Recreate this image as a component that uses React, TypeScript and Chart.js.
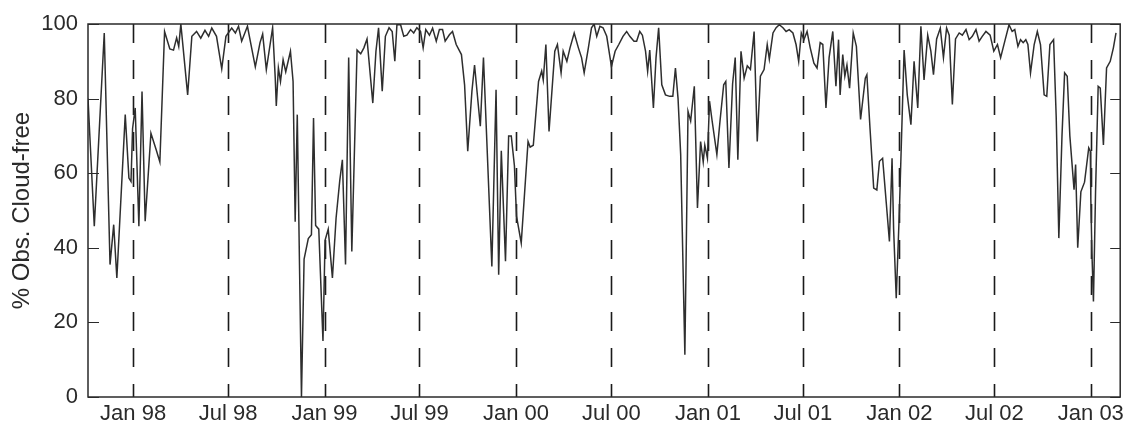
import React, { useEffect, useRef } from "react";
import { Chart, registerables } from "chart.js";

Chart.register(...registerables);

// Days since 1 Jan 1998 for each observation
const days = [
  -86, -74, -55, -44, -37, -31, -15, -8, -4, -1, 4, 11, 17, 23, 34, 44, 51, 60, 70, 77,
  83, 87, 91, 104, 112, 121, 129, 137, 144, 150, 159, 169, 177, 188, 195, 201, 207, 218, 224, 233,
  242, 247, 254, 266, 271, 273, 277, 281, 286, 291, 300, 305, 309, 313, 321, 326, 334, 340, 344, 348,
  354, 362, 366, 372, 380, 387, 394, 399, 405, 411, 417, 427, 434, 440, 446, 457, 463, 468, 475, 481,
  488, 494, 499, 503, 510, 516, 522, 529, 535, 541, 548, 553, 558, 565, 571, 578, 584, 590, 595, 603,
  609, 616, 626, 632, 638, 646, 651, 659, 662, 668, 684, 692, 697, 702, 710, 716, 721, 727, 731, 740,
  753, 757, 763, 773, 779, 782, 787, 793, 804, 809, 816, 820, 827, 833, 841, 849, 855, 860, 868, 874,
  879, 884, 890, 896, 903, 912, 919, 926, 934, 941, 947, 955, 960, 966, 971, 977, 981, 985, 992, 997,
  1002, 1008, 1015, 1023, 1029, 1034, 1039, 1044, 1052, 1058, 1063, 1070, 1076, 1082, 1087, 1090, 1095, 1099, 1104, 1113,
  1119, 1126, 1130, 1136, 1143, 1148, 1153, 1159, 1165, 1171, 1177, 1184, 1190, 1196, 1203, 1209, 1213, 1220, 1226, 1232,
  1239, 1245, 1251, 1258, 1264, 1269, 1274, 1279, 1285, 1291, 1298, 1304, 1310, 1315, 1321, 1327, 1334, 1340, 1345, 1348,
  1353, 1357, 1361, 1366, 1373, 1379, 1387, 1396, 1399, 1405, 1412, 1418, 1423, 1429, 1436, 1442, 1447, 1450, 1455, 1461,
  1470, 1476, 1483, 1489, 1496, 1502, 1508, 1515, 1521, 1526, 1532, 1539, 1545, 1551, 1556, 1562, 1568, 1575, 1581, 1588,
  1594, 1600, 1607, 1613, 1619, 1626, 1634, 1641, 1648, 1654, 1662, 1670, 1676, 1681, 1687, 1692, 1697, 1702, 1706, 1711,
  1718, 1724, 1730, 1737, 1742, 1748, 1755, 1760, 1765, 1771, 1776, 1781, 1786, 1794, 1797, 1801, 1807, 1814, 1822, 1825,
  1826, 1828, 1831, 1835, 1840, 1844, 1850, 1856, 1863, 1869, 1874,
];

// % of observations cloud-free
const pct = [
  80, 45.8, 97.6, 35.5, 46.2, 31.9, 75.7, 58.7, 57.8, 72, 77.5, 45.8, 81.9, 47.1, 70.7, 66.3, 63, 98, 93.3, 93,
  96.3, 94, 100, 81, 96.7, 98, 96.2, 98.3, 96.7, 98.9, 96.7, 88, 96.7, 98.9, 97.6, 99.4, 95.4, 99.4, 95, 88.5,
  95, 97.3, 87.8, 99, 85.5, 78, 88.2, 84.6, 90.4, 87.2, 92.7, 84.6, 47, 75.7, 0, 37, 42.5, 43.5, 74.8, 46,
  45, 15, 42, 45, 31.9, 48, 58, 63.6, 35.5, 91, 39, 93, 92, 93.6, 96, 78.8, 92.7, 99, 82, 96.7,
  99, 98, 90, 99.8, 99.8, 96.7, 97, 98.5, 97.6, 99, 98, 93.6, 98.5, 97, 98.9, 95.4, 98.5, 98.5, 95.4, 97.1,
  98, 94.5, 91.8, 83.7, 65.9, 82, 89, 77, 72.6, 91, 35, 82.4, 32.8, 66, 36.4, 70, 70, 62, 48.5, 41.3,
  68.5, 67, 67.5, 84.6, 87.4, 85, 94.5, 71.2, 92.7, 94.5, 86.9, 92.7, 90, 93.6, 97.6, 93.6, 91, 86.9, 93.6, 99,
  100, 96.7, 99.4, 99, 96.7, 88.6, 92.7, 94.5, 96.7, 98, 96.7, 95.4, 95.4, 98, 97, 92.7, 87.3, 93, 77.5, 91,
  99, 83.7, 81, 80.6, 80.6, 88.2, 80, 65, 11.3, 76.6, 74, 83.3, 50.7, 68.5, 63, 67.5, 64, 79.3, 74, 65,
  74, 83.7, 84.6, 61.4, 84, 91, 63.6, 92.7, 85.5, 88.8, 87.8, 98, 68.5, 86, 87.8, 94.5, 90.6, 97.6, 99, 99.8,
  99, 98, 98.5, 97.6, 94.5, 90, 97.6, 95.8, 98, 93.6, 89.5, 88.2, 95, 94.5, 77.5, 91, 98, 83.3, 95.8, 81,
  91.8, 86, 89, 82.8, 97.6, 94, 74.4, 85.5, 86.4, 72, 56, 55.5, 63.2, 64, 52, 41.7, 64, 45, 26.5, 50,
  93, 81, 73, 90, 77.5, 99.4, 85, 97, 92.7, 86.4, 96, 98.9, 91, 98.9, 97, 78.4, 96, 97.6, 97, 98.5,
  95.8, 96.7, 98.5, 95.4, 96.7, 98, 97, 92.7, 94.5, 91, 95.4, 99.8, 98, 98.5, 94, 95.8, 95, 95.8, 94.5, 86.9,
  94.5, 98, 94.5, 81, 80.6, 94.5, 95.8, 75, 42.6, 70, 86.9, 86, 70, 55.6, 62.3, 40, 55, 57.6, 66.8, 65.9,
  53, 39, 25.6, 55, 83.3, 82.8, 67.6, 88.2, 90, 93.6, 97.6,
];

// Tick positions (days since 1 Jan 1998) and their labels
const tickDays = [0, 181, 365, 546, 730, 912, 1096, 1277, 1461, 1642, 1826];
const tickLabels = ["Jan 98", "Jul 98", "Jan 99", "Jul 99", "Jan 00", "Jul 00", "Jan 01", "Jul 01", "Jan 02", "Jul 02", "Jan 03"];
const yTicks = [0, 20, 40, 60, 80, 100];

const FONT = "'Liberation Sans', Arial, Helvetica, sans-serif";

export default function App() {
  const ref = useRef<HTMLCanvasElement | null>(null);

  useEffect(() => {
    if (!ref.current) return;

    const decorations = {
      id: "decorations",
      beforeDatasetsDraw(chart: any) {
        const { ctx, chartArea } = chart;
        const xs = chart.scales.x;
        ctx.save();
        ctx.strokeStyle = "#1a1a1a";
        ctx.lineWidth = 1.6;
        ctx.setLineDash([19, 17]);
        tickDays.forEach((d) => {
          const px = Math.round(xs.getPixelForValue(d)) + 0.5;
          ctx.beginPath();
          ctx.moveTo(px, chartArea.top);
          ctx.lineTo(px, chartArea.bottom);
          ctx.stroke();
        });
        ctx.restore();
      },
      afterDraw(chart: any) {
        const { ctx, chartArea } = chart;
        const ys = chart.scales.y;
        ctx.save();
        ctx.strokeStyle = "#2a2a2a";
        ctx.lineWidth = 1.5;
        ctx.setLineDash([]);
        ctx.strokeRect(chartArea.left, chartArea.top, chartArea.right - chartArea.left, chartArea.bottom - chartArea.top);
        ctx.lineWidth = 1.2;
        yTicks.forEach((v) => {
          const py = Math.round(ys.getPixelForValue(v)) + 0.5;
          ctx.beginPath();
          ctx.moveTo(chartArea.left, py);
          ctx.lineTo(chartArea.left + 11, py);
          ctx.moveTo(chartArea.right, py);
          ctx.lineTo(chartArea.right - 10, py);
          ctx.stroke();
        });
        ctx.restore();
      },
    };

    const chart = new Chart(ref.current, {
      type: "line",
      data: {
        datasets: [
          {
            data: days.map((d, i) => ({ x: d, y: pct[i] })),
            borderColor: "#2e2e2e",
            borderWidth: 1.5,
            pointRadius: 0,
            tension: 0,
            fill: false,
          },
        ],
      },
      options: {
        animation: false,
        responsive: false,
        maintainAspectRatio: false,
        layout: { padding: { left: 0, top: 24, right: 5, bottom: 0 } },
        plugins: { legend: { display: false }, tooltip: { enabled: false } },
        scales: {
          x: {
            type: "linear",
            min: -86,
            max: 1882,
            afterBuildTicks: (s: any) => {
              s.ticks = tickDays.map((v) => ({ value: v }));
            },
            afterFit: (s: any) => {
              s.height = 30;
            },
            grid: { display: false, drawTicks: false },
            border: { display: false },
            ticks: {
              autoSkip: false,
              maxRotation: 0,
              minRotation: 0,
              padding: 4,
              color: "#2a2a2a",
              font: { family: FONT, size: 22 },
              callback: (v: any) => {
                const i = tickDays.indexOf(Number(v));
                return i >= 0 ? tickLabels[i] : "";
              },
            },
          },
          y: {
            min: 0,
            max: 100,
            afterBuildTicks: (s: any) => {
              s.ticks = yTicks.map((v) => ({ value: v }));
            },
            afterFit: (s: any) => {
              s.width = 88;
            },
            grid: { display: false, drawTicks: false },
            border: { display: false },
            ticks: {
              padding: 10,
              color: "#2a2a2a",
              font: { family: FONT, size: 22 },
            },
            title: {
              display: true,
              text: "% Obs. Cloud-free",
              color: "#2a2a2a",
              font: { family: FONT, size: 24 },
              padding: { top: 8, bottom: 0 },
            },
          },
        },
      },
      plugins: [decorations],
    });

    return () => chart.destroy();
  }, []);

  return (
    <div style={{ position: "fixed", left: 0, top: 0, width: 1128, height: 427, background: "#fff" }}>
      <canvas ref={ref} width={1128} height={427} style={{ display: "block", width: 1128, height: 427 }} />
    </div>
  );
}
